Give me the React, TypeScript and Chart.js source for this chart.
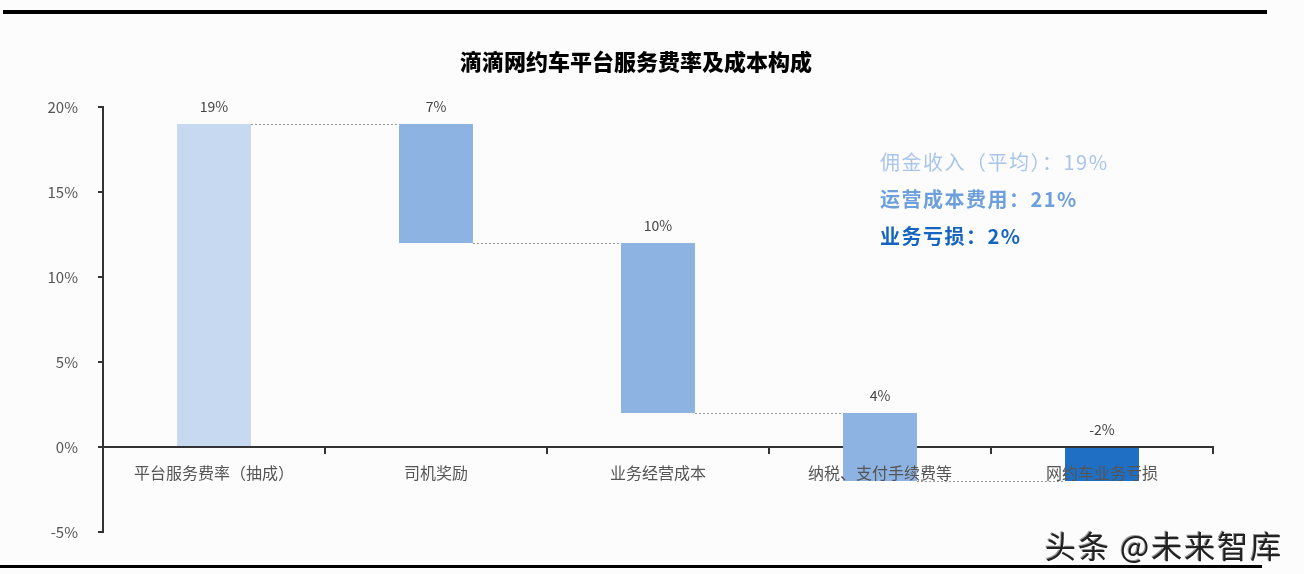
import React, { useEffect, useRef } from "react";
import { Chart, registerables } from "chart.js";

Chart.register(...registerables);

const categories = ["平台服务费率（抽成）", "司机奖励", "业务经营成本", "纳税、支付手续费等", "网约车业务亏损"];
const barLow = [0, 12, 2, -2, -2];
const barHigh = [19, 19, 12, 2, 0];
const valueLabels = ["19%", "7%", "10%", "4%", "-2%"];
const barColors = ["#c6d9f0", "#8db3e2", "#8db3e2", "#8db3e2", "#1f6fc4"];
const yTicks = [-5, 0, 5, 10, 15, 20];
const noteLines = ["佣金收入（平均）：19%", "运营成本费用：21%", "业务亏损：2%"];
const title = "滴滴网约车平台服务费率及成本构成";

const FONT = "'Noto Sans CJK SC', 'Noto Sans', sans-serif";

const overlayPlugin = {
  id: "overlay",
  afterDatasetsDraw(chart: any) {
    const ctx = chart.ctx;
    const meta = chart.getDatasetMeta(0);
    const y = chart.scales.y;
    ctx.save();
    ctx.strokeStyle = "#9a9a9a";
    ctx.lineWidth = 1;
    ctx.setLineDash([2, 2]);
    for (let i = 0; i < meta.data.length - 1; i++) {
      const a = meta.data[i];
      const b = meta.data[i + 1];
      const level = i === 0 ? barHigh[i] : barLow[i];
      const py = Math.round(y.getPixelForValue(level)) + 0.5;
      ctx.beginPath();
      ctx.moveTo(a.x + a.width / 2, py);
      ctx.lineTo(b.x - b.width / 2, py);
      ctx.stroke();
    }
    ctx.setLineDash([]);
    ctx.fillStyle = "#444";
    ctx.font = "14px " + FONT;
    ctx.textAlign = "center";
    ctx.textBaseline = "middle";
    meta.data.forEach((el: any, i: number) => {
      const top = y.getPixelForValue(barHigh[i]);
      ctx.fillText(valueLabels[i], el.x, top - 17);
    });
    ctx.restore();
  },
};

export default function App() {
  const ref = useRef<HTMLCanvasElement>(null);
  useEffect(() => {
    if (!ref.current) return;
    const chart = new Chart(ref.current, {
      type: "bar",
      data: {
        labels: categories,
        datasets: [
          {
            data: barLow.map((l, i) => [l, barHigh[i]]) as any,
            backgroundColor: barColors,
            borderWidth: 0,
            categoryPercentage: 1,
            barPercentage: 0.333,
          },
        ],
      },
      options: {
        responsive: false,
        animation: false,
        devicePixelRatio: 1,
        layout: { padding: { left: 0, right: 91, top: 107, bottom: 42 } },
        plugins: { legend: { display: false }, tooltip: { enabled: false }, title: { display: false } },
        scales: {
          x: {
            type: "category",
            position: { y: 0 } as any,
            offset: true,
            grid: { offset: true, drawOnChartArea: false, drawTicks: true, tickLength: 6, color: "#333", lineWidth: 2 },
            border: { display: true, color: "#333", width: 2 },
            ticks: { z: 1, color: "#555", font: { size: 16, family: FONT }, padding: 10, maxRotation: 0, autoSkip: false } as any,
          },
          y: {
            min: -5,
            max: 20,
            afterFit(scale: any) {
              scale.width = 103;
            },
            afterBuildTicks(scale: any) {
              scale.ticks = yTicks.map((v) => ({ value: v }));
            },
            grid: { drawOnChartArea: false, drawTicks: true, tickLength: 5, color: "#333", lineWidth: 2 },
            border: { display: true, color: "#333", width: 2 },
            ticks: {
              color: "#555",
              padding: 20,
              font: { size: 15, family: FONT },
              callback: (v: any) => v + "%",
            },
          },
        },
      },
      plugins: [overlayPlugin],
    });
    return () => chart.destroy();
  }, []);

  return (
    <div
      style={{
        position: "absolute",
        left: 0,
        top: 0,
        width: 1304,
        height: 574,
        background: "#fcfcfd",
        overflow: "hidden",
        fontFamily: FONT,
      }}
    >
      <div style={{ position: "absolute", left: 3, top: 10, width: 1264, height: 4, background: "#000" }} />
      <div style={{ position: "absolute", left: 0, top: 565, width: 1262, height: 3, background: "#000" }} />
      <canvas ref={ref} width={1304} height={574} style={{ position: "absolute", left: 0, top: 0 }} />
      <div
        style={{
          position: "absolute",
          left: 0,
          width: 1272,
          top: 45,
          textAlign: "center",
          fontSize: 22,
          fontWeight: 900,
          color: "#000",
          lineHeight: "30px",
        }}
      >
        {title}
      </div>
      <div style={{ position: "absolute", left: 880, top: 143, fontSize: 20, lineHeight: "37px", letterSpacing: 1.5 }}>
        <div style={{ color: "#a9c6ea" }}>{noteLines[0]}</div>
        <div style={{ color: "#6d9fdc", fontWeight: 600 }}>{noteLines[1]}</div>
        <div style={{ color: "#1565c0", fontWeight: 700 }}>{noteLines[2]}</div>
      </div>
      <div
        style={{
          position: "absolute",
          left: 1045,
          top: 523,
          fontSize: 31,
          letterSpacing: 2,
          color: "#222",
          lineHeight: "44px",
          textShadow: "1px 1px 0 #fff, -1px -1px 0 #999",
        }}
      >
        头条 @未来智库
      </div>
    </div>
  );
}
